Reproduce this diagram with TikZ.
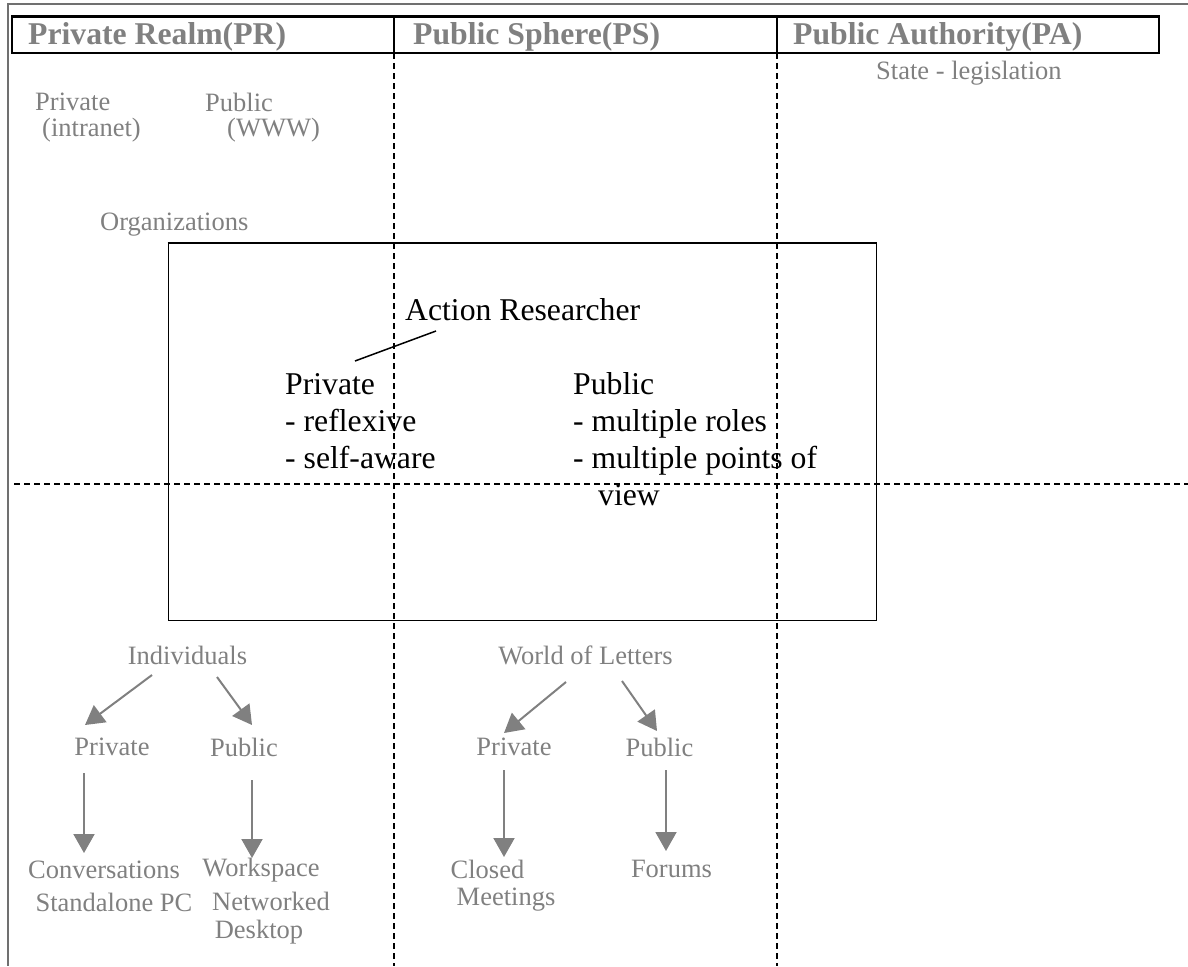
\documentclass[tikz,border=0pt]{standalone}
\usepackage{fontspec}
\setmainfont{Liberation Serif}
\usetikzlibrary{arrows.meta}
\definecolor{txtgray}{HTML}{808080}
\definecolor{framegray}{HTML}{707070}
\newcommand\gtfont{\fontsize{26.5}{31}\selectfont}
\newcommand\btfont{\fontsize{31.7}{37}\selectfont}
\newcommand\hdfont{\fontsize{31.7}{37}\selectfont\bfseries}
\begin{document}
\begin{tikzpicture}[x=1pt,y=-1pt,
  gt/.style={text=txtgray,font=\gtfont,inner sep=0pt},
  gtw/.style={gt,anchor=west},
  bt/.style={text=black,font=\btfont,inner sep=0pt,align=left},
  hd/.style={text=txtgray,font=\hdfont,inner sep=0pt,anchor=west},
  garrow/.style={draw=txtgray,line width=2pt,-{Triangle[length=19pt,width=21pt]}},
  divider/.style={draw=black,line width=1.8pt,dash pattern=on 6pt off 4pt},
  frame/.style={draw=framegray,line width=2pt}]
\useasboundingbox (0,0) rectangle (1188,966);
% outer frame
\draw[frame] (1188,4) -- (7.5,4) -- (7.5,966);
% dashed dividers
\draw[divider] (394,53) -- (394,966);
\draw[divider] (777,53) -- (777,966);
\draw[divider] (14,484) -- (1188,484);
% header
\draw[line width=2.5pt] (12,16.5) rectangle (1159,53);
\draw[line width=2pt] (394,16.5) -- (394,53);
\draw[line width=2pt] (777,16.5) -- (777,53);
\node[hd] (hpr) at (28,37) {Private Realm(PR)};
\node[hd] (hps) at (413,37) {Public Sphere(PS)};
\node[hd] (hpa) at (793,37) {Public Authority(PA)};
% upper texts
\node[gtw] (state) at (876,73) {State - legislation};
\node[gtw] (tpriv) at (35,102) {Private};
\node[gtw] (tintra) at (42,130) {(intranet)};
\node[gtw] (tpub) at (205,102) {Public};
\node[gtw] (twww) at (227,130) {(WWW)};
\node[gtw] (orgs) at (100,225) {Organizations};
% organizations box
\node[draw,line width=1pt,minimum width=708pt,minimum height=377pt,inner sep=0pt] (orgbox) at (522,431.5) {};
\draw[line width=2pt] (orgbox.north west) -- (orgbox.north east);
\node[bt,anchor=west] (ar) at (405,310) {Action Researcher};
\node[bt,anchor=north west] (privblk) at (285,373) {Private\\- reflexive\\- self-aware};
\node[bt,anchor=north west] (pubblk) at (573,372) {Public\\- multiple roles\\- multiple points of\\\hspace*{25pt}view};
\draw[line width=1.5pt] ([xshift=70pt,yshift=12pt]privblk.north west) -- ([xshift=31pt,yshift=-21pt]ar.west);
% individuals tree
\node[gt] (ind) at (187.5,655) {Individuals};
\node[gt] (indpriv) at (112,747) {Private};
\node[gt] (indpub) at (244,747) {Public};
\node[gt] (conv) at (104,870) {Conversations};
\node[gt] (stand) at (114,902) {Standalone PC};
\node[gt] (work) at (261,870) {Workspace};
\node[gt] (netw) at (271,901) {Networked};
\node[gt] (desk) at (259,932) {Desktop};
\draw[garrow] ([xshift=-35.5pt,yshift=-20pt]ind.center) -- ([xshift=-27pt,yshift=22pt]indpriv.center);
\draw[garrow] ([xshift=29.5pt,yshift=-22pt]ind.center) -- ([xshift=8pt,yshift=22pt]indpub.center);
\draw[garrow] ([xshift=-28pt,yshift=-26pt]indpriv.center) -- ([xshift=-20pt,yshift=17pt]conv.center);
\draw[garrow] ([xshift=8pt,yshift=-33pt]indpub.center) -- ([xshift=-9pt,yshift=12pt]work.center);
% world of letters tree
\node[gt] (wol) at (585.5,655) {World of Letters};
\node[gt] (wpriv) at (514,747) {Private};
\node[gt] (wpub) at (659.5,747) {Public};
\node[gt] (closed) at (487.5,869) {Closed};
\node[gt] (meet) at (506,900) {Meetings};
\node[gt] (forums) at (671.5,869) {Forums};
\draw[garrow] ([xshift=-19.5pt,yshift=-27pt]wol.center) -- ([xshift=-10pt,yshift=14pt]wpriv.center);
\draw[garrow] ([xshift=36.5pt,yshift=-26pt]wol.center) -- ([xshift=-2.5pt,yshift=16pt]wpub.center);
\draw[garrow] ([xshift=-10pt,yshift=-23pt]wpriv.center) -- ([xshift=16.5pt,yshift=12pt]closed.center);
\draw[garrow] ([xshift=6.5pt,yshift=-23pt]wpub.center) -- ([xshift=-5.5pt,yshift=18pt]forums.center);
\end{tikzpicture}
\end{document}
